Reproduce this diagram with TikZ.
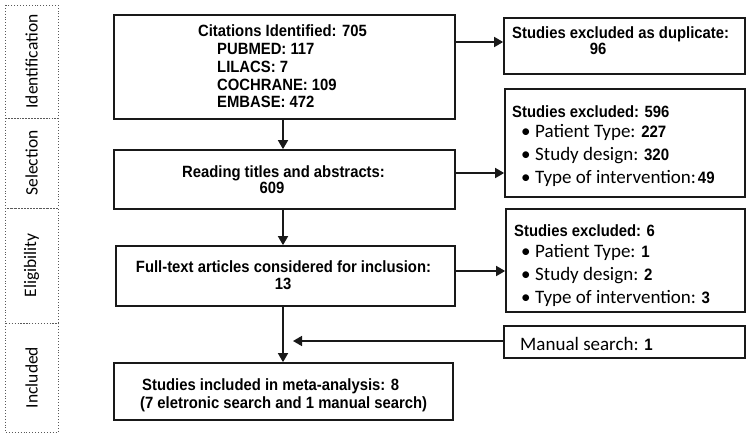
\documentclass[tikz,border=0pt]{standalone}
\usepackage{fontspec}
\setmainfont{Liberation Sans}[FakeStretch=0.91]
\newfontfamily\calfont{Carlito}
\newfontfamily\arialf{Liberation Sans}[FakeStretch=0.91]
\usetikzlibrary{arrows.meta}
\newcommand{\mynum}[1]{{\arialf\bfseries\fontsize{16.5}{18}\selectfont #1}}
\tikzset{
  box/.style={draw=black!90, line width=1.7pt, inner sep=0pt},
  lab/.style={draw=black!65, dotted, line width=0.9pt, rotate=90, inner sep=0pt,
    font=\calfont\fontsize{17.5}{20}\selectfont},
  ttl/.style={inner sep=0pt, font=\fontsize{16.3}{17}\selectfont\bfseries},
  itm/.style={inner sep=0pt, anchor=base west, font=\calfont\fontsize{19}{22}\selectfont},
  arr/.style={line width=1.6pt, draw=black!90, -{Triangle[length=9pt,width=10pt]}},
}
\newcommand{\bul}{\makebox[14pt][l]{\textbullet}}
\begin{document}
\begin{tikzpicture}[x=1pt,y=-1pt]
\useasboundingbox (0,0) rectangle (751,436);
% stage labels
\node[lab, minimum width=113pt, minimum height=53pt] (lid) at (31.5,61.5) {Identification};
\node[lab, minimum width=90pt, minimum height=53pt] (lse) at (31.5,163) {Selection};
\node[lab, minimum width=115pt, minimum height=53pt] (lel) at (31.5,265.5) {Eligibility};
\node[lab, minimum width=109pt, minimum height=53pt] (lin) at (31.5,377.5) {Included};
% main boxes
\node[box, minimum width=341pt, minimum height=104pt] (b1) at (284.5,67) {};
\node[box, minimum width=341pt, minimum height=59pt] (b2) at (284.5,179.5) {};
\node[box, minimum width=339pt, minimum height=60pt] (b3) at (285.5,276) {};
\node[box, minimum width=339pt, minimum height=57pt] (b4) at (283.5,391.5) {};
% right boxes
\node[box, minimum width=241pt, minimum height=56pt] (r1) at (624.5,46) {};
\node[box, minimum width=240pt, minimum height=108pt] (r2) at (625,143) {};
\node[box, minimum width=239pt, minimum height=103pt] (r3) at (625.5,260.5) {};
\node[box, minimum width=241pt, minimum height=32pt] (r4) at (624.5,342) {};
% texts box 1
\node[ttl, anchor=base] (t1) at (282.5,37) {Citations Identified: 705};
\node[ttl, anchor=base west] (t1a) at (217,55) {PUBMED: 117};
\node[ttl, anchor=base west] (t1b) at (217,72.5) {LILACS: 7};
\node[ttl, anchor=base west] (t1c) at (217,90) {COCHRANE: 109};
\node[ttl, anchor=base west] (t1d) at (217,107.5) {EMBASE: 472};
% box 2
\node[ttl, anchor=base] (t2) at (283.5,177) {Reading titles and abstracts:};
\node[ttl, anchor=base] (t2a) at (272,193) {609};
% box 3
\node[ttl, anchor=base] (t3) at (283.5,272) {Full-text articles considered for inclusion:};
\node[ttl, anchor=base] (t3a) at (283,289) {13};
% box 4
\node[ttl, anchor=base west] (t4) at (142,390) {Studies included in meta-analysis: 8};
\node[ttl, anchor=base west] (t4a) at (140,408) {(7 eletronic search and 1 manual search)};
% right box 1
\node[ttl, anchor=base west] (s1) at (512,38) {Studies excluded as duplicate:};
\node[ttl, anchor=base] (s1a) at (598,55) {96};
% right box 2
\node[ttl, anchor=base west] (s2) at (512,117.5) {Studies excluded: 596};
\node[itm] (s2a) at (521,137) {\bul Patient Type: \mynum{227}};
\node[itm] (s2b) at (521,160) {\bul Study design: \mynum{320}};
\node[itm] (s2c) at (521,183) {\bul Type of intervention:\hspace{2pt}\mynum{49}};
% right box 3
\node[ttl, anchor=base west] (s3) at (514,236.5) {Studies excluded: 6};
\node[itm] (s3a) at (521,257.5) {\bul Patient Type: \mynum{1}};
\node[itm] (s3b) at (521,280) {\bul Study design: \mynum{2}};
\node[itm] (s3c) at (521,303) {\bul Type of intervention: \mynum{3}};
% right box 4
\node[itm] (s4) at (520,350.5) {Manual search: \mynum{1}};
% connectors
\coordinate (sp) at (283,0);
\coordinate (mtip) at (293,341);
\draw[arr] (b1.south -| sp) -- (b2.north -| sp);
\draw[arr] (b2.south -| sp) -- (b3.north -| sp);
\draw[arr] (b3.south -| sp) -- (b4.north -| sp);
\draw[arr] (b1.east |- 0,42) -- (r1.west |- 0,42);
\draw[arr] (b2.east |- 0,173) -- (r2.west |- 0,173);
\draw[arr] (b3.east |- 0,271) -- (r3.west |- 0,271);
\draw[arr] (r4.west |- mtip) -- (mtip);
\end{tikzpicture}
\end{document}
